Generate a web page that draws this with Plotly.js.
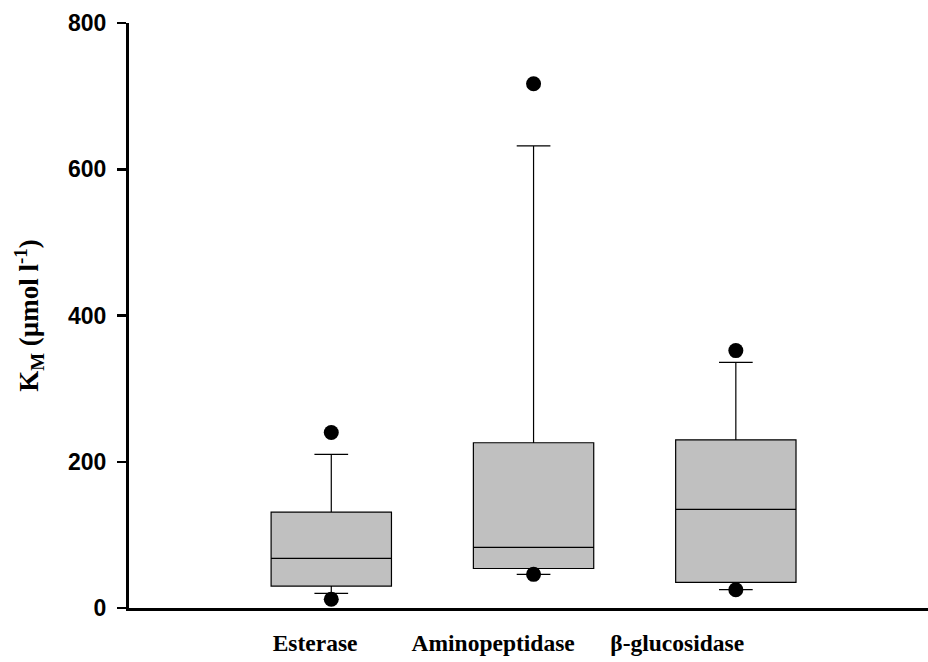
<!DOCTYPE html>
<html>
<head>
<meta charset="utf-8">
<script src="https://cdn.plot.ly/plotly-3.0.1.min.js"></script>
<style>html,body{margin:0;padding:0;background:#fff;}#chart{width:928px;height:662px;}</style>
</head>
<body>
<div id="chart"></div>
<script>
// Data
var categories = ["Esterase", "Aminopeptidase", "\u03B2-glucosidase"];
var positions = [1, 2, 3];
var labelPositions = [0.92, 1.80, 2.71];
var lowerWhisker = [20, 46, 25];
var q1 = [30, 54, 35];
var median = [68, 83, 135];
var q3 = [131, 226, 230];
var upperWhisker = [210, 632, 336];
var outlierX = [1, 1, 2, 2, 3, 3];
var outlierY = [240, 12, 717, 46, 352, 25];
var yTicks = [0, 200, 400, 600, 800];

var boxTrace = {
  type: 'box',
  x: positions,
  q1: q1,
  median: median,
  q3: q3,
  lowerfence: lowerWhisker,
  upperfence: upperWhisker,
  width: 0.595,
  whiskerwidth: 0.28,
  fillcolor: '#c0c0c0',
  line: {color: '#000000', width: 1.2},
  boxpoints: false,
  hoverinfo: 'skip',
  showlegend: false
};

var outlierTrace = {
  type: 'scatter',
  mode: 'markers',
  x: outlierX,
  y: outlierY,
  marker: {color: '#000000', size: 15, line: {width: 0}},
  hoverinfo: 'skip',
  showlegend: false
};

var layout = {
  width: 928,
  height: 662,
  margin: {l: 129, r: 0, t: 23, b: 54},
  paper_bgcolor: '#ffffff',
  plot_bgcolor: '#ffffff',
  showlegend: false,
  xaxis: {
    range: [0, 3.95],
    showgrid: false,
    zeroline: false,
    showline: true,
    linecolor: '#000000',
    linewidth: 3,
    ticks: '',
    tickmode: 'array',
    tickvals: labelPositions,
    ticktext: categories,
    ticklabelstandoff: 12,
    tickfont: {family: 'Liberation Serif', size: 23.5, color: '#000000', weight: 'bold'},
    fixedrange: true
  },
  yaxis: {
    range: [0, 800],
    showgrid: false,
    zeroline: false,
    showline: true,
    linecolor: '#000000',
    linewidth: 3,
    ticks: 'outside',
    ticklen: 9,
    tickwidth: 2.5,
    tickcolor: '#000000',
    tickmode: 'array',
    tickvals: yTicks,
    ticktext: yTicks.map(String),
    tickfont: {family: 'Liberation Sans', size: 23, color: '#000000', weight: 'bold'},
    ticklabelstandoff: 6,
    title: {
      text: 'K<sub>M</sub> (\u00B5mol l<sup>-1</sup>)',
      font: {family: 'Liberation Serif', size: 27, color: '#000000', weight: 'bold'},
      standoff: 22
    },
    fixedrange: true
  }
};

Plotly.newPlot('chart', [boxTrace, outlierTrace], layout, {displayModeBar: false, staticPlot: true});
</script>
</body>
</html>
